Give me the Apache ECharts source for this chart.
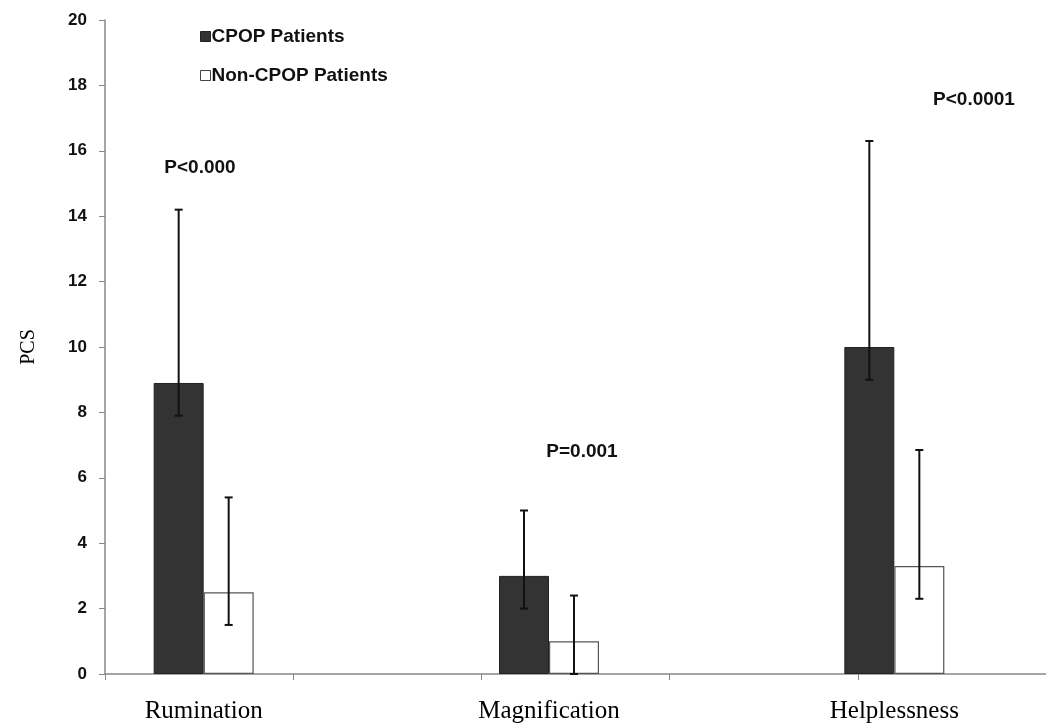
<!DOCTYPE html>
<html>
<head>
<meta charset="utf-8">
<script src="https://cdn.jsdelivr.net/npm/echarts@6/dist/echarts.min.js"></script>
<style>
  html, body { margin: 0; padding: 0; background: #fff; }
  #chart { width: 1046px; height: 724px; }
</style>
</head>
<body>
<div id="chart"></div>
<script>
const categories = ['Rumination', 'Magnification', 'Helplessness'];
const cpopMeans = [8.9, 3.0, 10.0];
const cpopLow = [7.9, 2.0, 9.0];
const cpopHigh = [14.2, 5.0, 16.3];
const nonCpopMeans = [2.5, 1.0, 3.3];
const nonCpopLow = [1.5, 0, 2.3];
const nonCpopHigh = [5.4, 2.4, 6.85];
const pValueLabels = ['P<0.000', 'P=0.001', 'P<0.0001'];
const seriesNames = ['CPOP Patients', 'Non-CPOP Patients'];

const BAR_W = 50;
const SANS = '"Liberation Sans", Arial, sans-serif';
const SERIF = '"Liberation Serif", "Times New Roman", serif';

// error bar drawn around a bar, shifted left/right inside the category band
function errorBars(offset) {
  return (params, api) => {
    const x = api.coord([api.value(0), 0])[0] + offset;
    const top = api.coord([api.value(0), api.value(2)])[1];
    const bot = api.coord([api.value(0), api.value(1)])[1];
    const st = { stroke: '#111', lineWidth: 2 };
    return {
      type: 'group',
      children: [
        { type: 'line', shape: { x1: x, y1: top, x2: x, y2: bot }, style: st },
        { type: 'line', shape: { x1: x - 4, y1: top, x2: x + 4, y2: top }, style: st },
        { type: 'line', shape: { x1: x - 4, y1: bot, x2: x + 4, y2: bot }, style: st },
      ],
    };
  };
}

const chart = echarts.init(document.getElementById('chart'));
chart.setOption({
  animation: false,
  backgroundColor: '#fff',
  grid: [
    // visible axes
    { left: 105, right: 0, top: 20, bottom: 50, outerBoundsMode: 'none' },
    // bars, wider band so the groups sit where the original has them
    { left: 31, width: 1036, top: 20, bottom: 50, outerBoundsMode: 'none' },
  ],
  legend: {
    orient: 'vertical',
    left: 195,
    top: 22,
    itemGap: 20,
    itemWidth: 10,
    itemHeight: 10,
    icon: 'rect',
    textStyle: { fontFamily: SANS, fontWeight: 'bold', fontSize: 19, color: '#111', padding: [0, 0, 0, -4] },
    data: [
      { name: seriesNames[0], itemStyle: { color: '#333', borderColor: '#222', borderWidth: 1 } },
      { name: seriesNames[1], itemStyle: { color: '#fff', borderColor: '#444', borderWidth: 1 } },
    ],
  },
  xAxis: [
    {
      gridIndex: 0,
      type: 'category',
      data: ['', '', '', '', ''],
      axisLine: { lineStyle: { color: '#888', width: 1.5 } },
      axisTick: { show: true, length: 6, lineStyle: { color: '#888' } },
      axisLabel: { show: false },
    },
    {
      gridIndex: 1,
      type: 'category',
      data: categories,
      axisLine: { show: false },
      axisTick: { show: false },
      axisLabel: { fontFamily: SERIF, fontSize: 25, color: '#000', margin: 25 },
    },
  ],
  yAxis: [
    {
      gridIndex: 0,
      type: 'value',
      min: 0,
      max: 20,
      interval: 2,
      name: 'PCS',
      nameLocation: 'middle',
      nameGap: 66,
      nameTextStyle: { fontFamily: SERIF, fontSize: 20, color: '#000' },
      axisLine: { show: true, lineStyle: { color: '#888', width: 1.5 } },
      axisTick: { show: true, length: 6, lineStyle: { color: '#888' } },
      axisLabel: { fontFamily: SANS, fontWeight: 'bold', fontSize: 17, color: '#111', margin: 18 },
      splitLine: { show: false },
    },
    { gridIndex: 1, type: 'value', min: 0, max: 20, show: false },
  ],
  series: [
    {
      name: seriesNames[0],
      type: 'bar',
      xAxisIndex: 1,
      yAxisIndex: 1,
      barWidth: BAR_W,
      barGap: '0%',
      itemStyle: { color: '#333', borderColor: '#222', borderWidth: 1 },
      data: cpopMeans,
    },
    {
      name: seriesNames[1],
      type: 'bar',
      xAxisIndex: 1,
      yAxisIndex: 1,
      barWidth: BAR_W,
      barGap: '0%',
      itemStyle: { color: '#fff', borderColor: '#555', borderWidth: 1.2 },
      data: nonCpopMeans,
    },
    {
      type: 'custom',
      xAxisIndex: 1,
      yAxisIndex: 1,
      z: 10,
      renderItem: errorBars(-BAR_W / 2),
      data: categories.map((c, i) => [i, cpopLow[i], cpopHigh[i]]),
    },
    {
      type: 'custom',
      xAxisIndex: 1,
      yAxisIndex: 1,
      z: 10,
      renderItem: errorBars(BAR_W / 2),
      data: categories.map((c, i) => [i, nonCpopLow[i], nonCpopHigh[i]]),
    },
  ],
  graphic: [
    [200, 168], [582, 452], [974, 100],
  ].map((p, i) => ({
    type: 'text',
    x: p[0],
    y: p[1],
    style: {
      text: pValueLabels[i],
      fontFamily: SANS,
      fontWeight: 'bold',
      fontSize: 19,
      fill: '#111',
      textAlign: 'center',
      textVerticalAlign: 'middle',
    },
  })),
});
</script>
</body>
</html>
